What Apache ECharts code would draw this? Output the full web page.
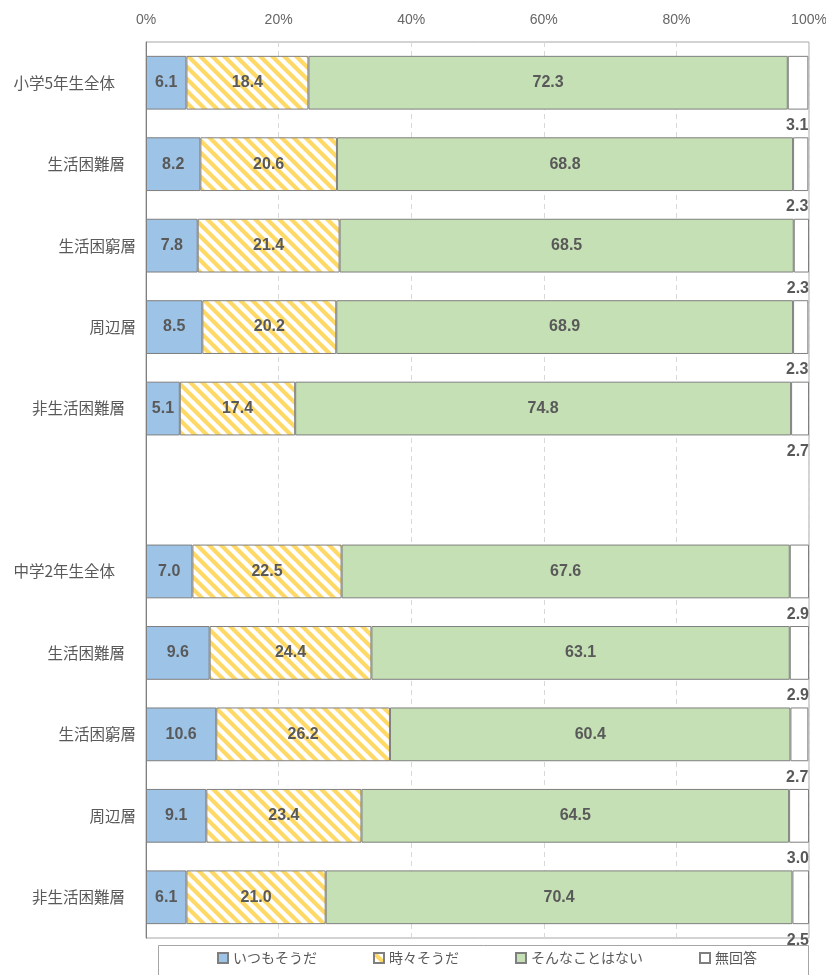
<!DOCTYPE html>
<html>
<head>
<meta charset="utf-8">
<script src="https://cdn.jsdelivr.net/npm/echarts@6/dist/echarts.min.js"></script>
<style>
  html, body { margin: 0; padding: 0; background: #fff; }
  #chart { width: 826px; height: 975px; }
</style>
</head>
<body>
<div id="chart"></div>
<script>
// Rows from top to bottom; the blank entry separates the two school groups.
const categories = [
  '小学5年生全体', '生活困難層', '生活困窮層', '周辺層', '非生活困難層',
  '',
  '中学2年生全体', '生活困難層', '生活困窮層', '周辺層', '非生活困難層'
];
const seriesNames = ['いつもそうだ', '時々そうだ', 'そんなことはない', '無回答'];
const always    = [6.1, 8.2, 7.8, 8.5, 5.1, null, 7.0, 9.6, 10.6, 9.1, 6.1];
const sometimes = [18.4, 20.6, 21.4, 20.2, 17.4, null, 22.5, 24.4, 26.2, 23.4, 21.0];
const never     = [72.3, 68.8, 68.5, 68.9, 74.8, null, 67.6, 63.1, 60.4, 64.5, 70.4];
const noAnswer  = [3.1, 2.3, 2.3, 2.3, 2.7, null, 2.9, 2.9, 2.7, 3.0, 2.5];
const xTicks = [0, 20, 40, 60, 80, 100];

// Diagonal yellow stripe tile for the 時々そうだ segments.
function stripeTile() {
  const p = 12;
  const c = document.createElement('canvas');
  c.width = p; c.height = p;
  const g = c.getContext('2d');
  g.fillStyle = '#ffffff';
  g.fillRect(0, 0, p, p);
  g.strokeStyle = '#FFD966';
  g.lineWidth = 4.2;
  g.lineCap = 'square';
  for (const o of [-p, 0, p]) {
    g.beginPath();
    g.moveTo(o - 1, -1);
    g.lineTo(o + p + 1, p + 1);
    g.stroke();
  }
  return c;
}

// Indentation of the row labels (right padding, px).
function labelStyleKey(name) {
  if (name.endsWith('全体')) return 'wide';
  if (name.endsWith('困難層')) return 'mid';
  return 'narrow';
}

const border = '#7F7F7F';
const textGrey = '#595959';
const cjkFont = '"Noto Sans CJK JP", sans-serif';
const catFontSize = 15.5;
const valueLabel = {
  show: true,
  position: 'inside',
  color: textGrey,
  fontFamily: '"Liberation Sans", Arial, sans-serif',
  fontWeight: 'bold',
  fontSize: 16,
  formatter: p => p.value == null ? '' : p.value.toFixed(1)
};

const fills = [
  '#9DC3E6',
  { image: stripeTile(), repeat: 'repeat' },
  '#C5E0B4',
  '#FFFFFF'
];
const values = [always, sometimes, never, noAnswer];

const series = seriesNames.map((name, i) => ({
  name,
  type: 'bar',
  stack: 'total',
  barCategoryGap: '34%',
  data: values[i],
  itemStyle: { color: fills[i], borderColor: border, borderWidth: 1 },
  label: i < 3 ? valueLabel : Object.assign({}, valueLabel, {
    position: ['100%', '100%'],
    align: 'right',
    verticalAlign: 'top',
    offset: [0, 8]
  }),
  emphasis: { disabled: true },
  animation: false
}));

const chart = echarts.init(document.getElementById('chart'), null, { renderer: 'canvas' });
chart.setOption({
  animation: false,
  grid: {
    left: 146, right: 17, top: 42, bottom: 37,
    outerBoundsMode: 'none',
    containLabel: false,
    show: true, borderColor: '#A6A6A6', borderWidth: 1
  },
  xAxis: {
    type: 'value',
    position: 'top',
    min: xTicks[0],
    max: xTicks[xTicks.length - 1],
    interval: 20,
    axisLine: { show: false },
    axisTick: { show: false },
    axisLabel: {
      margin: 15,
      color: '#666666',
      fontSize: 14,
      fontFamily: '"Liberation Sans", Arial, sans-serif',
      formatter: '{value}%'
    },
    splitLine: { show: true, lineStyle: { color: '#D9D9D9', type: [5, 4], width: 1 } }
  },
  yAxis: {
    type: 'category',
    inverse: true,
    data: categories,
    axisLine: { show: true, lineStyle: { color: '#7F7F7F', width: 1 } },
    axisTick: { show: false },
    axisLabel: {
      margin: 10,
      color: textGrey,
      fontSize: catFontSize,
      fontFamily: cjkFont,
      formatter: v => v ? '{' + labelStyleKey(v) + '|' + v + '}' : '',
      rich: {
        wide:   { padding: [0, 21, 0, 0], color: textGrey, fontSize: catFontSize, fontFamily: cjkFont },
        mid:    { padding: [0, 11, 0, 0], color: textGrey, fontSize: catFontSize, fontFamily: cjkFont },
        narrow: { padding: [0, 0, 0, 0],  color: textGrey, fontSize: catFontSize, fontFamily: cjkFont }
      }
    }
  },
  legend: {
    left: 217,
    top: 951,
    padding: 0,
    itemWidth: 10,
    itemHeight: 10,
    itemGap: 56,
    icon: 'rect',
    selectedMode: false,
    textStyle: { color: textGrey, fontSize: 14, fontFamily: cjkFont },
    data: seriesNames
  },
  graphic: [{
    type: 'rect',
    silent: true,
    shape: { x: 158.5, y: 945.5, width: 650, height: 40 },
    style: { fill: null, stroke: '#A6A6A6', lineWidth: 1 }
  }],
  series
});
</script>
</body>
</html>
